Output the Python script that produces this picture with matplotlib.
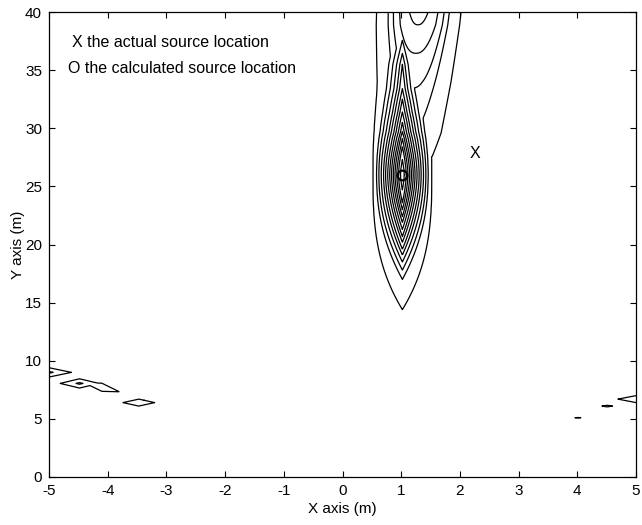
import numpy as np
import matplotlib.pyplot as plt

plt.rcParams['font.family'] = ['Liberation Sans', 'DejaVu Sans']
plt.rcParams['axes.unicode_minus'] = False

# contour levels (distance units of the localisation map)
levels = [1.3, 2.4, 3.0, 3.6, 4.1, 4.7, 5.3, 5.8, 6.4, 6.9, 7.5, 8.2, 9.0, 11.6]
# half width of each level at the peak row, and how blunt its ends are
lobe_hw = [0.03, 0.065, 0.095, 0.125, 0.155, 0.185, 0.215, 0.25, 0.285, 0.32, 0.36, 0.40, 0.44, 0.50]
blunt_lv = [1.3, 6.0, 9.0, 11.6]
blunt_p = [1.5, 1.8, 2.2, 2.8]

# main lobe around the calculated source
peak_x, peak_y = 1.02, 26.0
# stretch of the lobe above the peak (dy -> level distance)
up_dy = [0.0, 2.4, 3.1, 3.7, 4.5, 5.4, 6.5, 7.4, 9.5, 12.5, 16.0]
up_lv = [0.0, 2.4, 3.0, 3.6, 4.1, 4.7, 5.3, 5.8, 6.4, 8.0, 9.5]

# ridge running up to the top edge
ridge_y = [24.0, 26.0, 27.6, 29.6, 34.0, 38.9, 40.0, 44.0]
ridge_floor = [40.0, 14.0, 9.86, 8.95, 8.1, 6.9, 6.77, 6.5]
ridge_cy = [26.0, 27.6, 29.6, 34.0, 40.0]
ridge_cx = [1.05, 1.06, 1.12, 1.22, 1.30]
ridge_w, ridge_q = 0.373, 2.4

# small side lobes near the bottom
side_x = [-5.05, -4.48, -4.1, -3.47, 4.01, 4.51, 5.1]
side_y = [9.0, 8.05, 7.72, 6.4, 5.1, 6.1, 6.7]
side_floor = [8.0, 8.43, 10.6, 11.0, 11.55, 11.4, 11.0]
side_a = [0.12, 0.104, 0.3, 0.45, 1.0, 0.45, 0.68]
side_b = [0.126, 0.126, 0.35, 0.5, 0.4, 0.35, 0.66]
side_k = [0.0, 0.0, -1.3, 0.0, 0.0, 0.0, 0.0]

actual_xy = (2.26, 27.8)
calc_xy = (peak_x, peak_y)

x = np.linspace(-5.2, 5.2, 1041)
y = np.linspace(0.0, 44.0, 881)
X, Y = np.meshgrid(x, y)

# main lobe: level c passes where |dx| = hw(c) * (1 - (e/c)^p(c))
hw_lv = levels + [40.0, 200.0]
hw_val = lobe_hw + [2.0, 10.0]
dx = np.abs(X - peak_x)
dy = Y - peak_y
e = np.where(dy < 0, -dy, np.interp(dy, up_dy, up_lv))
lo = e.copy()
hi = e + 40.0
for _ in range(40):
    mid = 0.5 * (lo + hi)
    p = np.interp(mid, blunt_lv, blunt_p)
    phi = np.interp(mid, hw_lv, hw_val) * (1 - (e / np.maximum(mid, 1e-9)) ** p)
    big = phi > dx
    hi = np.where(big, mid, hi)
    lo = np.where(big, lo, mid)
F = 0.5 * (lo + hi)

# ridge
cx = np.interp(Y, ridge_cy, ridge_cx)
fl = np.interp(Y, ridge_y, ridge_floor)
F = np.minimum(F, fl + (np.abs(X - cx) / ridge_w) ** ridge_q)

# side lobes
for sx, sy, s0, a, b, k in zip(side_x, side_y, side_floor, side_a, side_b, side_k):
    ddx = X - sx
    ddy = Y - sy - k * ddx
    F = np.minimum(F, s0 + np.abs(ddx) / a + np.abs(ddy) / b)

fig = plt.figure(figsize=(6.42, 5.25), dpi=100)
ax = fig.add_axes([49 / 642, 48 / 525, 587 / 642, 465 / 525])
ax.contour(X, Y, F, levels=levels, colors='black', linewidths=0.9)

ax.plot(*calc_xy, 'o', ms=7, mfc='none', mec='black', mew=1.6)
ax.text(*actual_xy, 'X', fontsize=11.5, ha='center', va='center')

ax.text(-4.61, 37.4, 'X the actual source location', fontsize=11.5, va='center')
ax.text(-4.68, 35.1, 'O the calculated source location', fontsize=11.5, va='center')

ax.set_xlim(-5, 5)
ax.set_ylim(0, 40)
ax.set_xticks(range(-5, 6))
ax.set_yticks(range(0, 41, 5))
ax.tick_params(direction='in', top=True, right=True, length=4, width=0.8,
               labelsize=11, pad=5)
for sp in ax.spines.values():
    sp.set_linewidth(0.9)
ax.set_xlabel('X axis (m)', fontsize=11, labelpad=3)
ax.set_ylabel('Y axis (m)', fontsize=11, labelpad=0)

fig.savefig('out.png', dpi=100)
